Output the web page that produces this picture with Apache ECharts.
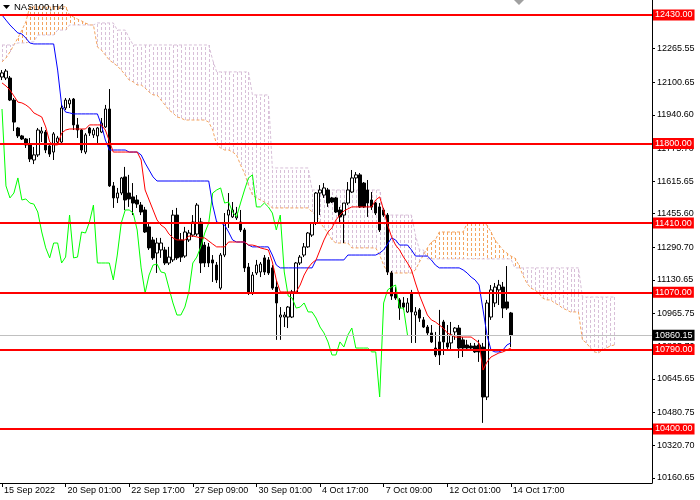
<!DOCTYPE html>
<html><head><meta charset="utf-8">
<script src="https://cdn.jsdelivr.net/npm/echarts@6/dist/echarts.min.js"></script>
<style>html,body{margin:0;padding:0;background:#fff}#c{width:700px;height:500px}</style>
</head><body><div id="c"></div>
<script>
const title = 'NAS100,H4';
const xTickLabels = ['15 Sep 2022','20 Sep 01:00','22 Sep 17:00','27 Sep 09:00','30 Sep 01:00','4 Oct 17:00','7 Oct 09:00','12 Oct 01:00','14 Oct 17:00'];
const barsPerLabel = 16;
const slotCount = 164;
const yMin = 10135.3, yMax = 12503.5;
const yTicks = [10160.65,10320.70,10480.75,10645.65,10805.70,10965.75,11130.65,11290.70,11455.60,11615.65,11775.70,11940.60,12100.65,12265.55];
const levels = [12430, 11800, 11410, 11070, 10790, 10400];
const lastPrice = 10860.15;
const chikouShift = 26;

// [open, close, low, high]
const ohlc = [
[12126,12146,12111,12160],[12121,12155,12111,12165],[12121,12013,12008,12131],[12013,11905,11861,12023],
[11876,11837,11827,11881],[11837,11822,11817,11842],[11822,11793,11778,11827],[11793,11724,11709,11827],
[11719,11744,11699,11783],[11744,11866,11734,11876],[11851,11861,11807,11881],[11856,11768,11753,11866],
[11788,11748,11734,11798],[11758,11847,11719,11856],[11807,11827,11793,11837],[11807,11974,11793,11994],
[11974,12013,11964,12023],[11994,12013,11974,12023],[12018,11891,11866,12023],[11891,11866,11827,11925],
[11866,11768,11753,11871],[11758,11842,11748,11851],[11876,11851,11837,11881],[11842,11866,11827,11876],
[11837,11876,11793,11881],[11856,11900,11851,11925],[11881,11969,11876,11989],[11969,11592,11587,12067],
[11592,11533,11484,11611],[11533,11557,11508,11582],[11557,11631,11547,11636],[11636,11523,11474,11685],
[11557,11528,11489,11646],[11538,11508,11449,11606],[11523,11503,11484,11547],[11498,11464,11449,11513],
[11474,11366,11361,11489],[11391,11288,11278,11415],[11327,11239,11229,11342],[11263,11312,11165,11337],
[11278,11312,11239,11337],[11278,11214,11204,11293],[11214,11243,11204,11293],[11229,11449,11219,11474],
[11449,11239,11229,11484],[11327,11243,11219,11361],[11248,11366,11239,11391],[11327,11361,11317,11376],
[11351,11415,11342,11449],[11356,11498,11346,11508],[11415,11214,11165,11435],[11302,11214,11194,11317],
[11293,11214,11194,11312],[11229,11214,11121,11253],[11204,11131,11116,11219],[11091,11253,11082,11263],
[11253,11410,11243,11459],[11449,11474,11386,11557],[11440,11474,11435,11513],[11435,11459,11425,11489],
[11415,11376,11366,11474],[11376,11190,11170,11386],[11194,11067,11057,11214],[11067,11155,11057,11170],
[11165,11204,11155,11229],[11170,11209,11145,11219],[11239,11170,11155,11253],[11229,11165,11155,11243],
[11190,11091,11082,11204],[11096,11018,10837,11131],[10949,10959,10837,10998],[10949,10959,10900,10974],
[10949,10998,10895,11003],[10949,11072,10944,11082],[11067,11214,11062,11219],[11214,11243,11204,11253],
[11253,11293,11243,11312],[11293,11361,11288,11366],[11351,11410,11342,11415],[11410,11557,11400,11562],
[11557,11572,11449,11596],[11547,11582,11533,11606],[11572,11508,11489,11582],[11533,11513,11508,11538],
[11533,11464,11459,11538],[11474,11440,11410,11489],[11449,11508,11312,11508],[11508,11572,11498,11611],
[11562,11631,11557,11670],[11631,11646,11606,11660],[11646,11489,11484,11655],[11606,11489,11484,11611],
[11572,11508,11440,11621],[11523,11489,11474,11562],[11508,11459,11449,11513],[11489,11376,11366,11508],
[11474,11449,11440,11484],[11449,11170,11155,11459],[11165,11052,11033,11175],[11067,11042,11033,11096],
[11033,10993,10935,11042],[11018,10998,10984,11047],[10974,11018,10969,11042],[11067,10974,10822,11082],
[10959,10974,10822,10998],[10984,10944,10925,10993],[10935,10900,10895,10949],[10900,10871,10861,10910],
[10871,10827,10822,10910],[10797,10763,10753,10876],[10827,10763,10714,10984],[10925,10827,10763,10935],
[10822,10802,10787,10910],[10822,10861,10787,10925],[10876,10895,10837,10900],[10895,10797,10748,10910],
[10837,10797,10753,10851],[10812,10797,10787,10837],[10807,10797,10787,10822],[10807,10778,10773,10822],
[10812,10778,10729,10837],[10802,10557,10430,10822],[10557,11018,10542,11033],[10949,11082,10935,11106],
[11018,11096,10998,11116],[11082,11106,11008,11131],[11096,10993,10944,11121],[11023,10993,10984,11199],
[10969,10860.15,10802,10974]
];

const tenkan = [
12097,12082,12062,12033,12003,11999,11989,11974,11950,11940,11930,11881,11807,11793,11793,11851,11866,
11871,11871,11871,11871,11871,
11891,11891,11891,11891,
11866,11812,
11758,11758,11758,11758,11758,11758,11758,
11719,11572,11523,11474,11425,11400,11386,11356,11337,
11327,11327,11327,
11346,11346,11342,11337,11337,11322,11307,
11293,11293,11293,
11317,11317,11317,11317,11317,
11302,11302,11297,11288,11283,11278,11219,11131,
11072,11072,11072,11072,11072,
11106,11155,11190,11214,11229,11278,11327,11366,11386,11425,11449,11469,11479,
11489,11489,11489,11489,11489,11489,
11523,11538,11474,11400,11342,11302,11278,11243,11214,11180,11116,11057,11008,10959,10935,10925,10910,10895,10871,10861,
10851,10851,10851,10851,10851,
10837,10822,10689,10729,10753,10763,10773,10778,10787,10797
];

const kijun = [
12430,12405,12381,12361,12342,12337,12317,12293,
12288,12288,12288,12288,12288,12288,
12160,11989,11954,11950,
11945,11945,11945,11945,11945,11945,11945,
11891,11817,
11768,11768,11768,11768,11768,
11758,11758,11758,
11744,11704,11670,11636,
11616,11616,11616,11616,11616,11616,11616,11616,11616,11616,11616,11616,11616,11616,
11498,11415,11410,11400,11366,11327,
11317,11317,11317,
11302,
11293,11293,11293,11293,11293,
11253,11204,
11190,11190,11190,11190,11190,11190,11190,11190,11190,
11229,11229,11229,11229,11229,11229,11229,11229,
11253,11253,11253,11253,11253,11253,11253,11253,
11263,11278,11307,11337,11327,
11302,11302,11302,
11278,
11248,11248,11248,11248,
11229,11204,
11190,11190,11190,11190,11190,11190,
11180,11165,11145,11131,11106,10984,10861,10787,10778,10778,10787,10812,10822
];

const spanA = [
12200,12219,12249,12283,12317,12356,12396,
12470,12470,12470,12470,12470,12470,12470,12470,12470,12470,
12430,12420,12410,12401,12391,12381,12381,
12273,12258,12234,12209,12195,12180,12160,12136,12111,12102,12087,12087,12072,12052,12038,12038,12013,11989,11964,11950,11930,11925,
11915,11915,11915,11915,11915,11915,
11905,11866,11793,11778,11768,11768,11758,11744,11695,11655,11596,11547,11533,11523,11513,11503,
11484,11484,11484,11484,11484,11484,11484,11484,11484,11484,
11464,11449,11415,11386,11361,11327,
11312,11312,11312,11312,
11288,11288,11288,11288,11288,11288,11288,
11253,11204,
11165,11165,11165,11165,11165,11165,11165,
11180,11219,11253,11288,11317,11327,
11366,11366,11366,11366,11366,11366,11366,
11410,11410,11410,11410,11410,
11400,11366,11327,11302,11278,11263,11248,11239,11204,11155,11116,11091,11082,11067,11042,11033,11033,11018,11008,10993,10984,10974,10974,10974,10837,10822,10797,10778,10773,10787,10797,10807,10812
];

const spanB = [
12283,12283,12283,12283,
12293,12293,12293,
12298,12298,
12332,12332,12332,12332,12332,
12356,12356,12356,
12381,12381,12381,12381,12381,12381,12381,
12391,12391,12391,12391,12391,
12356,12356,12356,
12317,
12283,12283,12283,12283,12283,12283,12283,12283,12283,12283,12283,12283,12283,12283,12283,12283,12283,12283,12283,12283,
12209,
12151,12151,12151,12151,12151,12151,12151,12151,12151,
12038,12038,12038,12038,12038,
11680,11680,11680,11680,11680,11680,11680,11680,11680,11680,
11572,11572,11572,11572,11572,11572,11572,11572,11572,11572,11572,11572,11572,11572,11572,11572,11572,11572,
11449,11449,11449,11449,11449,11449,11449,11449,
11351,
11278,11278,
11234,11234,11234,11234,11234,11234,11234,11234,11234,11234,11234,11234,11234,11234,11234,11234,11234,11234,11234,11234,11234,11234,
11190,11190,11190,11190,11190,11190,11190,11190,11190,11190,11190,11190,11190,11190,11190,11190,11190,
11047,11047,11047,11047,11047,11047,11047,11047,11047
];

const FONT = 'Liberation Sans';
const cats = Array.from({length: slotCount}, (_, i) => String(i));
const chikou = ohlc.slice(chikouShift).map(c => c[1]);
const cloudData = spanA.map((a, i) => [i, a, spanB[i]]);
const lastTickIndex = (xTickLabels.length - 1) * barsPerLabel;

const chart = echarts.init(document.getElementById('c'));
chart.setOption({
  animation: false,
  backgroundColor: '#fff',
  grid: {left: -2, right: 48, top: 0, bottom: 17},
  xAxis: {
    type: 'category', data: cats, boundaryGap: true,
    axisLine: {show: true, lineStyle: {color: '#000', width: 1}},
    axisTick: {show: true, alignWithLabel: true, length: 4,
      interval: (i) => i % barsPerLabel === 0 && i <= lastTickIndex,
      lineStyle: {color: '#000'}},
    axisLabel: {
      interval: (i) => i % barsPerLabel === 0 && i <= lastTickIndex,
      formatter: (v, i) => xTickLabels[Math.round(Number(v) / barsPerLabel)] || '',
      align: 'left', color: '#000', fontSize: 9, fontFamily: FONT, margin: 3, padding: [0, 0, 0, 2]
    },
    splitLine: {show: false}
  },
  yAxis: {
    type: 'value', position: 'right', min: yMin, max: yMax,
    axisLine: {show: true, lineStyle: {color: '#000', width: 1}},
    axisTick: {show: true, customValues: yTicks, length: 3, lineStyle: {color: '#000'}},
    axisLabel: {customValues: yTicks, formatter: (v) => Number(v).toFixed(2), color: '#000', fontSize: 9, fontFamily: FONT, margin: 5},
    splitLine: {show: false}
  },
  graphic: [
    {type: 'polygon', shape: {points: [[3, 5], [10, 5], [6.5, 9]]}, style: {fill: '#000'}, z: 20},
    {type: 'text', left: 14, top: 2, style: {text: title, font: '9.5px "Liberation Sans"', fill: '#000'}, z: 20},
    {type: 'polygon', shape: {points: [[514, 0], [524, 0], [519, 5]]}, style: {fill: '#a0a0a0'}, z: 20}
  ],
  series: [
    {
      name: 'kumo', type: 'custom', z: 1, silent: true,
      data: cloudData, encode: {x: 0, y: [1, 2]},
      renderItem: (params, api) => {
        const i = api.value(0), a = api.value(1), b = api.value(2);
        const p1 = api.coord([i, a]), p2 = api.coord([i, b]);
        const x = Math.round(p1[0]) + 0.5;
        return {type: 'line', shape: {x1: x, y1: Math.round(p1[1]), x2: x, y2: Math.round(p2[1])},
          style: {stroke: a > b ? '#F4A460' : '#D8BFD8', lineWidth: 1, lineDash: [3, 2]}};
      }
    },
    {name: 'Senkou A', type: 'line', data: spanA, z: 1, showSymbol: false, silent: true,
      lineStyle: {color: '#F4A460', width: 1, type: [3, 2]}},
    {name: 'Senkou B', type: 'line', data: spanB, z: 1, showSymbol: false, silent: true,
      lineStyle: {color: '#D8BFD8', width: 1, type: [3, 2]}},
    {
      name: 'NAS100', type: 'candlestick', data: ohlc, z: 2, barWidth: 3, silent: true,
      itemStyle: {color: '#ffffff', color0: '#000000', borderColor: '#000000', borderColor0: '#000000', borderWidth: 1},
      markLine: {
        z: 6, silent: true, symbol: ['none', 'none'],
        label: {show: true, position: 'end', distance: 1, color: '#fff', fontSize: 9, fontFamily: FONT,
          padding: [1, 2, 1, 2], formatter: (p) => Number(p.value).toFixed(2)},
        data: levels.map(v => ({yAxis: v, lineStyle: {color: '#ff0000', width: 2, type: 'solid'}, label: {backgroundColor: '#ff0000'}}))
          .concat([{yAxis: lastPrice, lineStyle: {color: '#c0c0c0', width: 1, type: 'solid'}, label: {backgroundColor: '#000000'}}])
      }
    },
    {name: 'Chikou', type: 'line', data: chikou, z: 3, showSymbol: false, silent: true, lineStyle: {color: '#00ff00', width: 1}},
    {name: 'Kijun', type: 'line', data: kijun, z: 3, showSymbol: false, silent: true, lineStyle: {color: '#0000ff', width: 1}},
    {name: 'Tenkan', type: 'line', data: tenkan, z: 3, showSymbol: false, silent: true, lineStyle: {color: '#ff0000', width: 1}}
  ]
});
</script>
</body></html>
